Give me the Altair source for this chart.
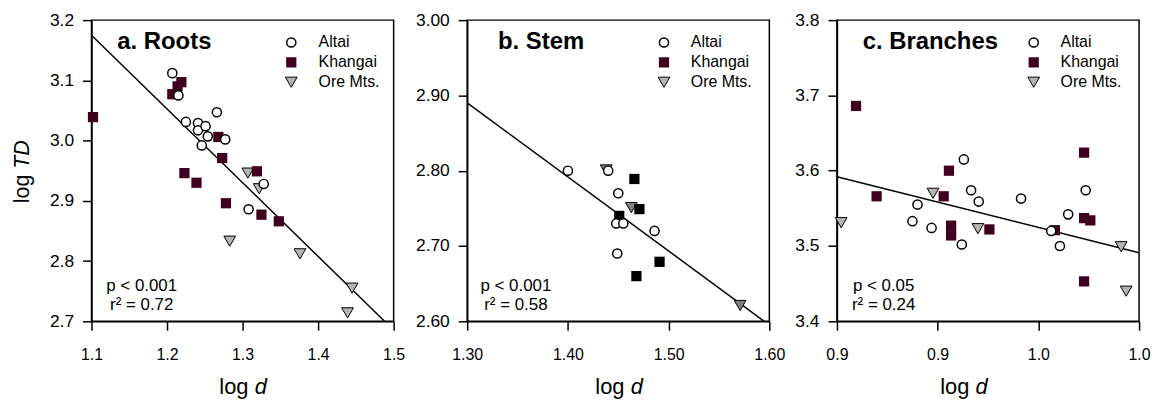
import altair as alt
import pandas as pd

FONT = "Liberation Sans"
MAROON = "#400020"
LIGHT_GREY = "#b4b4b4"
DARK_GREY = "#808080"

# ---------------- data ----------------
# a. Roots
a_altai_x = [1.207, 1.215, 1.225, 1.241, 1.241, 1.251, 1.254, 1.246, 1.266, 1.277, 1.328, 1.308]
a_altai_y = [3.112, 3.075, 3.031, 3.029, 3.017, 3.024, 3.007, 2.992, 3.047, 3.002, 2.928, 2.886]
a_khangai_x = [1.102, 1.207, 1.219, 1.214, 1.223, 1.239, 1.268, 1.273, 1.278, 1.319, 1.325, 1.348]
a_khangai_y = [3.039, 3.077, 3.097, 3.090, 2.946, 2.930, 3.006, 2.971, 2.896, 2.949, 2.877, 2.866]
a_ore_x = [1.307, 1.322, 1.283, 1.376, 1.445, 1.439]
a_ore_y = [2.946, 2.920, 2.833, 2.812, 2.755, 2.714]
a_fit_x = [1.10, 1.488]
a_fit_y = [3.175, 2.70]

# b. Stem
b_altai_x = [1.400, 1.440, 1.450, 1.448, 1.455, 1.449, 1.486]
b_altai_y = [2.800, 2.800, 2.770, 2.730, 2.730, 2.690, 2.720]
b_khangai_x = [1.466, 1.471, 1.451, 1.468, 1.491]
b_khangai_y = [2.789, 2.749, 2.740, 2.660, 2.679]
b_ore_x = [1.438, 1.463, 1.571]
b_ore_y = [2.801, 2.751, 2.621]
b_fit_x = [1.30, 1.595]
b_fit_y = [2.890, 2.60]

# c. Branches
c_altai_x = [0.913, 0.9166, 0.9204, 0.890, 0.8875, 0.897, 0.912, 0.9414, 0.9564, 0.9607, 0.9648, 0.9735]
c_altai_y = [3.615, 3.574, 3.559, 3.555, 3.533, 3.524, 3.502, 3.563, 3.520, 3.500, 3.542, 3.574]
c_khangai_x = [0.8595, 0.8697, 0.903, 0.9056, 0.9067, 0.9067, 0.9257, 0.9582, 0.9727, 0.9727, 0.9758, 0.9727]
c_khangai_y = [3.686, 3.566, 3.566, 3.600, 3.527, 3.514, 3.522, 3.521, 3.624, 3.537, 3.534, 3.453]
c_ore_x = [0.8521, 0.8977, 0.920, 0.9911, 0.9936]
c_ore_y = [3.531, 3.570, 3.523, 3.499, 3.440]
c_fit_x = [0.85, 1.00]
c_fit_y = [3.592, 3.491]

# axes
a_xticks = [1.1, 1.2, 1.3, 1.4, 1.5]
a_xlabels = ["1.1", "1.2", "1.3", "1.4", "1.5"]
a_yticks = [2.7, 2.8, 2.9, 3.0, 3.1, 3.2]
a_ylabels = ["2.7", "2.8", "2.9", "3.0", "3.1", "3.2"]
b_xticks = [1.30, 1.40, 1.50, 1.60]
b_xlabels = ["1.30", "1.40", "1.50", "1.60"]
b_yticks = [2.60, 2.70, 2.80, 2.90, 3.00]
b_ylabels = ["2.60", "2.70", "2.80", "2.90", "3.00"]
c_xticks = [0.85, 0.90, 0.95, 1.00]
c_xlabels = ["0.9", "0.9", "1.0", "1.0"]
c_yticks = [3.4, 3.5, 3.6, 3.7, 3.8]
c_ylabels = ["3.4", "3.5", "3.6", "3.7", "3.8"]

titles = ["a. Roots", "b. Stem", "c. Branches"]
p_texts = ["p < 0.001", "p < 0.001", "p < 0.05"]
r_texts = ["r\u00b2 = 0.72", "r\u00b2 = 0.58", "r\u00b2 = 0.24"]
legend_labels = ["Altai", "Khangai", "Ore Mts."]

W, H = 304, 303


def label_expr(values, labels):
    expr = f"'{labels[-1]}'"
    for i in range(len(values) - 2, -1, -1):
        mid = (values[i] + values[i + 1]) / 2
        expr = f"datum.value < {mid:.4f} ? '{labels[i]}' : ({expr})"
    return expr


def text_layer(txt, x, y, size, weight="normal", style="normal", align="left",
               baseline="alphabetic", angle=None):
    kw = dict(font=FONT, fontSize=size, fontWeight=weight, fontStyle=style,
              align=align, baseline=baseline, color="black")
    if angle is not None:
        kw["angle"] = angle
    return alt.Chart(pd.DataFrame({"t": [txt]})).mark_text(**kw).encode(
        x=alt.value(x), y=alt.value(y), text="t:N")


def sym_style(kind, khangai_col, ore_col):
    if kind == "altai":
        return dict(shape="circle", filled=True, fill="white", stroke="black",
                    strokeWidth=1.5, size=85, opacity=1)
    if kind == "khangai":
        return dict(shape="square", filled=True, fill=khangai_col, stroke=khangai_col,
                    strokeWidth=0, size=106, opacity=1)
    return dict(shape="triangle-down", filled=True, fill=ore_col, stroke="black",
                strokeWidth=1, size=140, opacity=1)


def panel(series, fit_x, fit_y, xdom, ydom, xt, xl, yt, yl, title, title_x,
          p_txt, r_txt, stat_x, leg_sx, leg_tx, xtitle_start, khangai_col, ore_col,
          ytitle=False):
    X = alt.X("x:Q", scale=alt.Scale(domain=xdom, nice=False, zero=False),
              axis=alt.Axis(values=xt, labelExpr=label_expr(xt, xl), title=None,
                            grid=False, labelFlush=False))
    Y = alt.Y("y:Q", scale=alt.Scale(domain=ydom, nice=False, zero=False),
              axis=alt.Axis(values=yt, labelExpr=label_expr(yt, yl), title=None,
                            grid=False, labelFlush=False))
    layers = [alt.Chart(pd.DataFrame({"x": fit_x, "y": fit_y}))
              .mark_line(color="black", strokeWidth=1.5).encode(x=X, y=Y)]
    for kind in ["ore", "khangai", "altai"]:
        sx, sy = series[kind]
        layers.append(alt.Chart(pd.DataFrame({"x": sx, "y": sy}))
                      .mark_point(**sym_style(kind, khangai_col, ore_col))
                      .encode(x=X, y=Y))
    # legend
    for i, (kind, lab) in enumerate(zip(["altai", "khangai", "ore"], legend_labels)):
        yy = 22.5 + 20 * i
        layers.append(alt.Chart(pd.DataFrame({"t": [lab]}))
                      .mark_point(**sym_style(kind, MAROON, LIGHT_GREY))
                      .encode(x=alt.value(leg_sx), y=alt.value(yy)))
        layers.append(text_layer(lab, leg_tx, yy, 16, baseline="middle"))
    # panel title and statistics
    layers.append(text_layer(title, title_x, 29.5, 24, weight="bold"))
    layers.append(text_layer(p_txt, stat_x, 272.5, 17, align="center"))
    layers.append(text_layer(r_txt, stat_x, 292, 17, align="center"))
    # x axis title: "log d" with italic d
    layers.append(text_layer("log", xtitle_start + 29.3, 376, 22, align="right"))
    layers.append(text_layer("d", xtitle_start + 35.5, 376, 22, style="italic", align="left"))
    if ytitle:
        layers.append(text_layer("log", -62.7, 155.5, 21.5, align="right", angle=270))
        layers.append(text_layer("TD", -62.7, 149.5, 21.5, style="italic", align="left", angle=270))
    return alt.layer(*layers).properties(width=W, height=H)


pa = panel({"altai": (a_altai_x, a_altai_y), "khangai": (a_khangai_x, a_khangai_y),
            "ore": (a_ore_x, a_ore_y)}, a_fit_x, a_fit_y, [1.1, 1.5], [2.7, 3.2],
           a_xticks, a_xlabels, a_yticks, a_ylabels, titles[0], 26, p_texts[0], r_texts[0],
           50.5, 201, 228.5, 128.7, MAROON, LIGHT_GREY, ytitle=True)
pb = panel({"altai": (b_altai_x, b_altai_y), "khangai": (b_khangai_x, b_khangai_y),
            "ore": (b_ore_x, b_ore_y)}, b_fit_x, b_fit_y, [1.3, 1.6], [2.6, 3.0],
           b_xticks, b_xlabels, b_yticks, b_ylabels, titles[1], 31, p_texts[1], r_texts[1],
           49, 198, 225, 129, "black", DARK_GREY)
pc = panel({"altai": (c_altai_x, c_altai_y), "khangai": (c_khangai_x, c_khangai_y),
            "ore": (c_ore_x, c_ore_y)}, c_fit_x, c_fit_y, [0.85, 1.0], [3.4, 3.8],
           c_xticks, c_xlabels, c_yticks, c_ylabels, titles[2], 26, p_texts[2], r_texts[2],
           47, 198, 225, 104, MAROON, LIGHT_GREY)

chart = alt.hconcat(
    pa,
    alt.hconcat(pb, pc, spacing=68, bounds="flush"),
    spacing=74, bounds="flush",
).properties(
    padding={"left": 3, "top": 1, "right": 0, "bottom": 0}
).configure_view(
    stroke="black", strokeWidth=1.5
).configure_axis(
    labelFont=FONT, labelFontSize=16, labelColor="black",
    domainColor="black", domainWidth=1.5,
    tickColor="black", tickWidth=1.5, tickSize=9,
).configure_axisX(
    labelPadding=16
).configure_axisY(
    labelPadding=9, labelFontSize=17.5
)

chart.save("out.html", embed_options={"renderer": "svg", "actions": False})
